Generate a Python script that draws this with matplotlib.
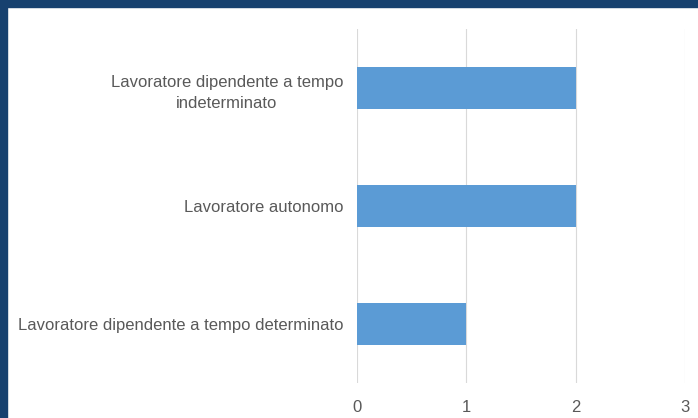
import matplotlib.pyplot as plt
from matplotlib.patches import Rectangle

categories = [
    "Lavoratore dipendente a tempo determinato",
    "Lavoratore autonomo",
    "Lavoratore dipendente a tempo\nindeterminato",
]
values = [1, 2, 2]
x_ticks = [0, 1, 2, 3]

W, H = 698, 418
fig = plt.figure(figsize=(W / 100, H / 100), dpi=100)
fig.patch.set_facecolor("white")

# dark blue frame on top and left edge
fig.patches.append(Rectangle((0, 1 - 7 / H), 1, 7 / H, transform=fig.transFigure,
                             color="#17416f", zorder=0))
fig.patches.append(Rectangle((0, 0), 7 / W, 1, transform=fig.transFigure,
                             color="#17416f", zorder=0))

ax = fig.add_axes([357 / W, 1 - 383 / H, (685 - 357) / W, (383 - 29) / H])
ax.barh(range(len(categories)), values, height=0.356, color="#5b9bd5", zorder=3)

ax.set_xlim(0, 3)
ax.set_ylim(-0.5, len(categories) - 0.5)
ax.set_xticks(x_ticks)
ax.set_yticks(range(len(categories)))
ax.set_yticklabels(categories)

for s in ax.spines.values():
    s.set_visible(False)
ax.grid(axis="x", color="#d9d9d9", linewidth=0.8, zorder=0)
ax.tick_params(axis="both", length=0, labelsize=12, labelcolor="#595959",
               labelfontfamily="Liberation Sans")
ax.tick_params(axis="y", pad=10)
ax.tick_params(axis="x", pad=12)

for lbl in ax.get_yticklabels():
    lbl.set_multialignment("center")
    lbl.set_linespacing(1.5)

plt.savefig("out.png", dpi=100)
plt.close()
